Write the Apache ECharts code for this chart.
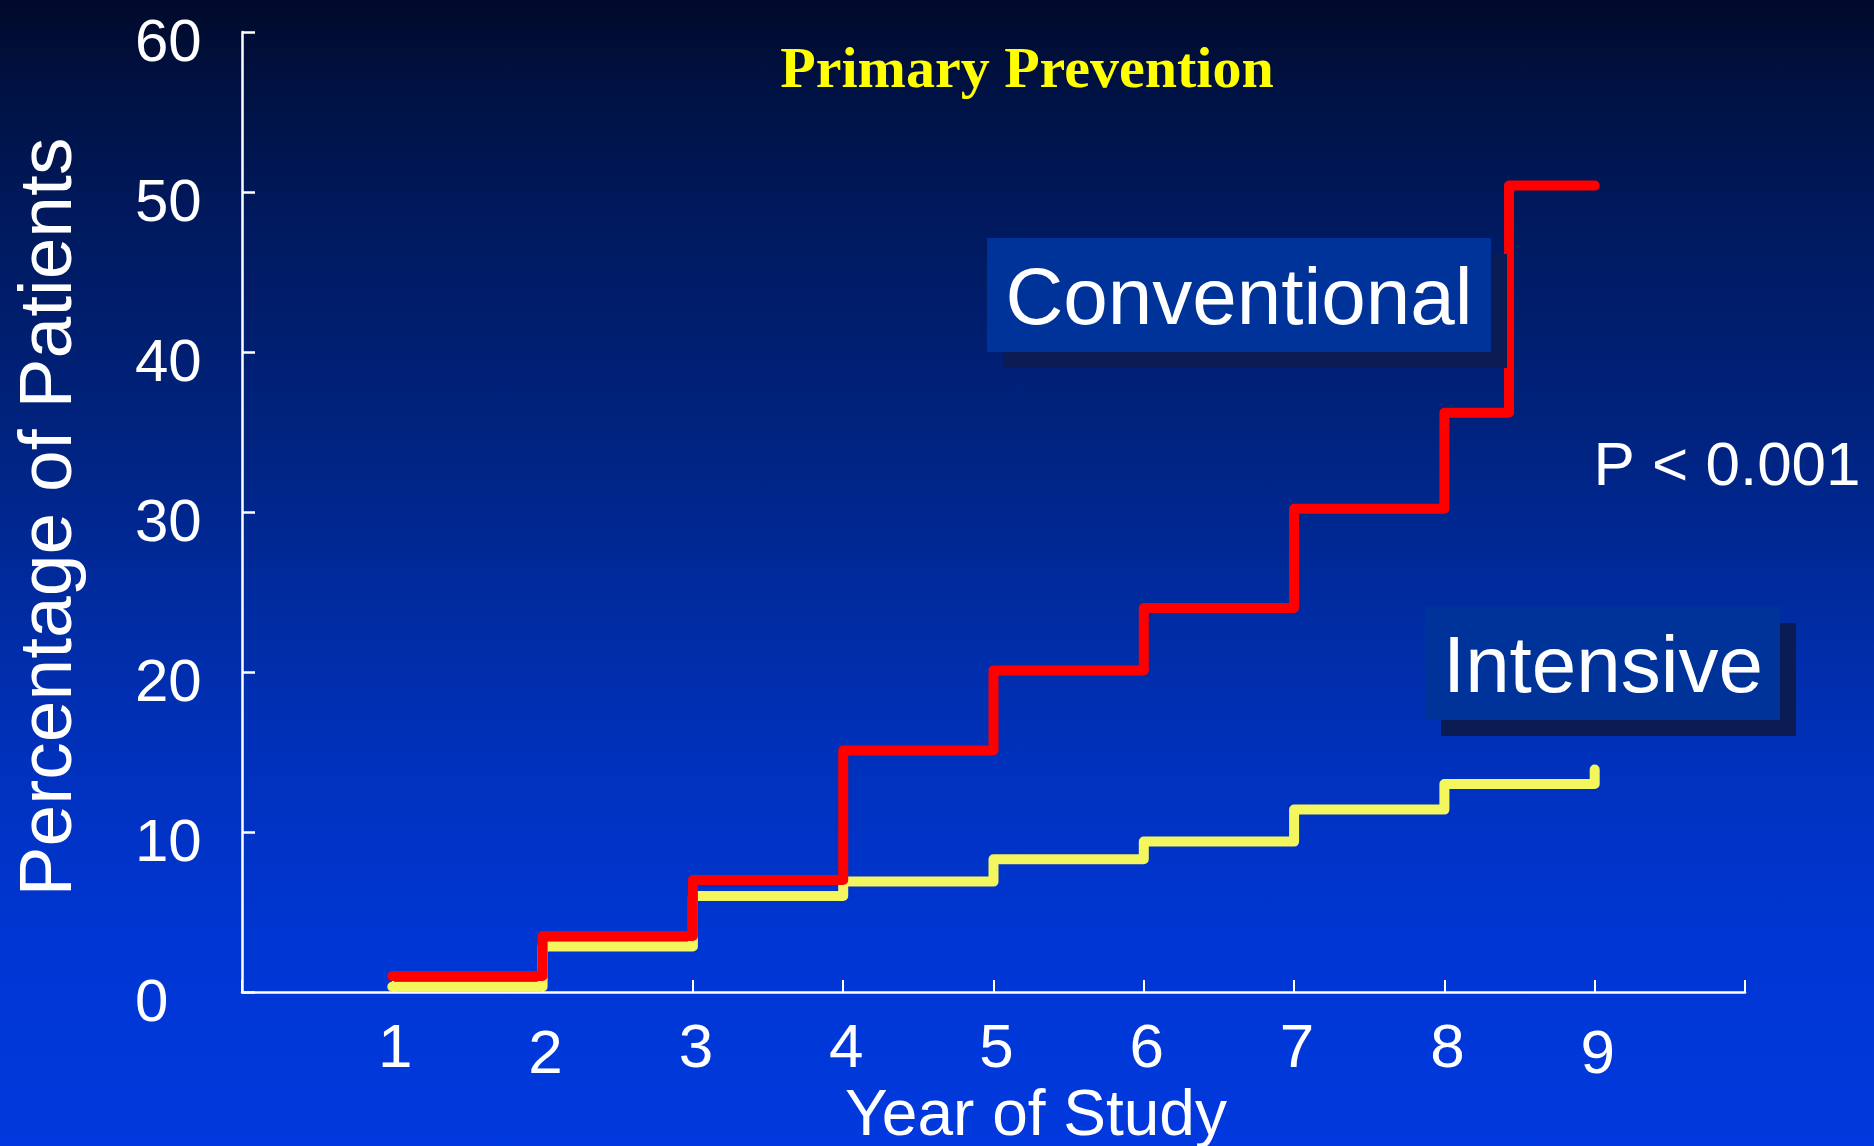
<!DOCTYPE html>
<html>
<head>
<meta charset="utf-8">
<script src="https://cdn.jsdelivr.net/npm/echarts@6/dist/echarts.min.js"></script>
<style>
html,body{margin:0;padding:0;overflow:hidden;}
#c{width:1874px;height:1146px;background:linear-gradient(to bottom,#000a2a 0%,#001244 8%,#001a60 20%,#00237f 38%,#002b9f 52%,#0032bf 68%,#0036d2 82%,#0039de 100%);}
</style>
</head>
<body>
<div id="c"></div>
<script>
// ---- data ----
const chartTitle = 'Primary Prevention';
const xAxisTitle = 'Year of Study';
const yAxisTitle = 'Percentage of Patients';
const pValueText = 'P < 0.001';
const xTickLabels = [1, 2, 3, 4, 5, 6, 7, 8, 9];
const yTickValues = [0, 10, 20, 30, 40, 50, 60];
const conventionalName = 'Conventional';
const conventionalX = [1, 2, 3, 4, 5, 6, 7, 8, 8.43, 9];
const conventionalY = [1.0, 3.5, 7.0, 15.1, 20.1, 24.0, 30.2, 36.2, 50.4, 50.4];
const intensiveName = 'Intensive';
const intensiveX = [1, 2, 3, 4, 5, 6, 7, 8, 9];
const intensiveY = [0.33, 2.85, 6.0, 6.9, 8.3, 9.4, 11.4, 13.0, 13.9];

const SANS = '"Liberation Sans", Arial, Helvetica, sans-serif';
const SERIF = '"Liberation Serif", "Times New Roman", serif';
const shadow = {textShadowColor: 'rgba(0,8,50,0.95)', textShadowOffsetX: 3, textShadowOffsetY: 3, textShadowBlur: 0};

const chart = echarts.init(document.getElementById('c'), null, {renderer: 'canvas'});

function zip(xs, ys) { return xs.map((x, i) => [x, ys[i]]); }

function txt(text, x, y, size, color, extra) {
  return Object.assign({
    type: 'text', x: x, y: y, z: 20,
    style: Object.assign({
      text: text, fill: color, fontSize: size, fontFamily: SANS,
      textAlign: 'center', textVerticalAlign: 'middle', align: 'center', verticalAlign: 'middle'
    }, shadow)
  }, extra || {});
}

const option = {
  backgroundColor: 'transparent',
  animation: false,
  grid: {left: 242, right: 129, top: 32, bottom: 154, containLabel: false},
  xAxis: {
    type: 'value', min: 0, max: 10, interval: 1,
    axisLine: {show: true, onZero: false, lineStyle: {color: '#ffffff', width: 2.5}},
    axisTick: {show: true, inside: true, length: 12, lineStyle: {color: '#ffffff', width: 2}},
    splitLine: {show: false},
    axisLabel: Object.assign({
      color: '#ffffff', fontSize: 62, fontFamily: SANS, margin: 58, verticalAlign: 'middle',
      padding: [0, 0, 0, 6],
      showMinLabel: true, showMaxLabel: true,
      formatter: function (v) {
        if (xTickLabels.indexOf(v) < 0) return '';
        if (v === 2 || v === 9) return '{lo|' + v + '}';
        return String(v);
      },
      rich: {lo: Object.assign({color: '#ffffff', fontSize: 62, fontFamily: SANS, padding: [12, 0, 0, 0]}, shadow)}
    }, shadow)
  },
  yAxis: {
    type: 'value', min: 0, max: 60, interval: 10,
    axisLine: {show: true, lineStyle: {color: '#ffffff', width: 2.5}},
    axisTick: {show: true, inside: true, length: 13, lineStyle: {color: '#ffffff', width: 2.5}},
    splitLine: {show: false},
    axisLabel: Object.assign({
      color: '#ffffff', fontSize: 60, fontFamily: SANS, align: 'left', margin: 107,
      formatter: function (v) { return yTickValues.indexOf(v) >= 0 ? '{d|' + v + '}' : ''; },
      rich: {d: Object.assign({color: '#ffffff', fontSize: 60, fontFamily: SANS, padding: [24, 0, 0, 0]}, shadow)}
    }, shadow)
  },
  series: [
    {
      name: intensiveName, type: 'line', step: 'end', data: zip(intensiveX, intensiveY),
      symbol: 'none', showSymbol: false, z: 2,
      lineStyle: {color: '#f4f65e', width: 10, cap: 'round', join: 'round'}
    },
    {
      name: conventionalName, type: 'line', step: 'end', data: zip(conventionalX, conventionalY),
      symbol: 'none', showSymbol: false, z: 3,
      lineStyle: {color: '#ff0000', width: 10, cap: 'round', join: 'round'}
    }
  ],
  graphic: [
    // label boxes with drop shadows
    {type: 'rect', z: 10, shape: {x: 1003, y: 254, width: 504, height: 114}, style: {fill: '#0b1c55'}},
    {type: 'rect', z: 11, shape: {x: 987, y: 238, width: 504, height: 114}, style: {fill: '#003399'}},
    {type: 'rect', z: 10, shape: {x: 1441, y: 623, width: 355, height: 113}, style: {fill: '#0b1c55'}},
    {type: 'rect', z: 11, shape: {x: 1425, y: 607, width: 355, height: 113}, style: {fill: '#003399'}},
    txt(conventionalName, 1239, 302, 80, '#ffffff', {}),
    txt(intensiveName, 1603, 670, 80, '#ffffff', {}),
    txt(pValueText, 1727, 468, 62, '#ffffff', {}),
    txt(xAxisTitle, 1036, 1117, 64, '#ffffff', {}),
    txt(yAxisTitle, 50, 517, 75, '#ffffff', {rotation: Math.PI / 2}),
    {
      type: 'text', x: 1027, y: 72, z: 20,
      style: {
        text: chartTitle, fill: '#ffff00', fontSize: 58, fontWeight: 'bold', fontFamily: SERIF,
        textAlign: 'center', textVerticalAlign: 'middle', align: 'center', verticalAlign: 'middle',
        textShadowColor: '#ffffff', textShadowOffsetX: -2, textShadowOffsetY: 3, textShadowBlur: 0
      }
    }
  ]
};
chart.setOption(option);
</script>
</body>
</html>
